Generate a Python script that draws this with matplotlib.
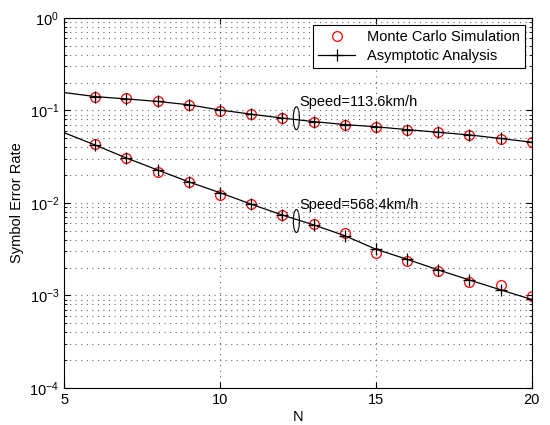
import numpy as np
import matplotlib
matplotlib.use("Agg")
import matplotlib.pyplot as plt
from matplotlib.patches import Ellipse
from matplotlib.ticker import LogLocator, NullFormatter

plt.rcParams['font.family'] = ['Liberation Sans', 'DejaVu Sans']
plt.rcParams['mathtext.fontset'] = 'custom'
plt.rcParams['mathtext.rm'] = 'Liberation Sans'

# Number of antennas N
N_sim = [6, 7, 8, 9, 10, 11, 12, 13, 14, 15, 16, 17, 18, 19, 20]
N_ana = [5, 6, 7, 8, 9, 10, 11, 12, 13, 14, 15, 16, 17, 18, 19, 20]

# Speed = 113.6 km/h
ser_sim_low = [0.139, 0.135, 0.127, 0.115, 0.0995, 0.091, 0.0826, 0.0757, 0.0703,
               0.0668, 0.062, 0.058, 0.0543, 0.0495, 0.0453]
ser_ana_low = [0.156, 0.141, 0.133, 0.125, 0.115, 0.101, 0.091, 0.0826, 0.0757, 0.0703,
               0.0665, 0.062, 0.058, 0.0543, 0.0497, 0.0453]

# Speed = 568.4 km/h
ser_sim_high = [0.0431, 0.0309, 0.0216, 0.0169, 0.0122, 0.0097, 0.0074, 0.00588,
                0.00469, 0.0029, 0.00238, 0.00182, 0.00141, 0.0013, 0.000995]
ser_ana_high = [0.0575, 0.0422, 0.0306, 0.0227, 0.0169, 0.0129, 0.0097, 0.0074, 0.0058,
                0.00443, 0.00316, 0.00246, 0.00189, 0.00147, 0.00115, 0.000905]

fig = plt.figure(figsize=(5.5, 4.25), dpi=100)
ax = fig.add_axes([0.1164, 0.087, 0.8506, 0.871])

# Monte Carlo points
ax.semilogy(N_sim, ser_sim_low, 'o', color='red', mfc='none', ms=7, mew=0.9,
            label='Monte Carlo Simulation')
ax.semilogy(N_sim, ser_sim_high, 'o', color='red', mfc='none', ms=7, mew=0.9)

# Asymptotic curves
ax.semilogy(N_ana, ser_ana_low, '-', color='black', lw=0.9, marker='+', ms=9,
            mew=0.9, markevery=list(range(1, len(N_ana))), label='Asymptotic Analysis')
ax.semilogy(N_ana, ser_ana_high, '-', color='black', lw=0.9, marker='+', ms=9,
            mew=0.9, markevery=list(range(1, len(N_ana))))

ax.set_xlim(5, 20)
ax.set_ylim(1e-4, 1e0)
ax.set_xticks([5, 10, 15, 20])
ax.yaxis.set_major_locator(LogLocator(base=10, numticks=10))
ax.yaxis.set_minor_locator(LogLocator(base=10, subs=np.arange(2, 10), numticks=10))
ax.yaxis.set_minor_formatter(NullFormatter())

grid_style = dict(linestyle=(0, (1, 4)), color='#666666', lw=0.8)
ax.grid(True, which='major', **grid_style)
ax.grid(True, which='minor', axis='y', **grid_style)

ax.tick_params(which='both', direction='in', top=True, right=True, labelsize=10.5)
ax.tick_params(which='major', length=4)
ax.tick_params(which='minor', length=2)
for sp in ax.spines.values():
    sp.set_linewidth(0.8)

ax.set_xlabel('N', fontsize=10.5, labelpad=2)
ax.set_ylabel('Symbol Error Rate', fontsize=10.5)

# speed annotations (ellipses drawn in axes fraction so they stay elliptic on log scale)
def mark_ellipse(x, y):
    xa, ya = ax.transAxes.inverted().transform(ax.transData.transform((x, y)))
    ax.add_patch(Ellipse((xa, ya), 0.013, 0.062, transform=ax.transAxes,
                         fill=False, color='black', lw=0.8))

mark_ellipse(12.45, 10 ** -1.085)
ax.text(12.55, 10 ** -0.905, 'Speed=113.6km/h', fontsize=10.5, va='center')
mark_ellipse(12.45, 10 ** -2.195)
ax.text(12.55, 10 ** -2.02, 'Speed=568.4km/h', fontsize=10.5, va='center')

leg = ax.legend(loc='upper right', fontsize=10.5, frameon=True, fancybox=False,
                edgecolor='black', framealpha=1, borderaxespad=0.5, handlelength=2.5,
                borderpad=0.35, labelspacing=0.3)
leg.get_frame().set_linewidth(0.8)

fig.savefig('out.png', dpi=100)
